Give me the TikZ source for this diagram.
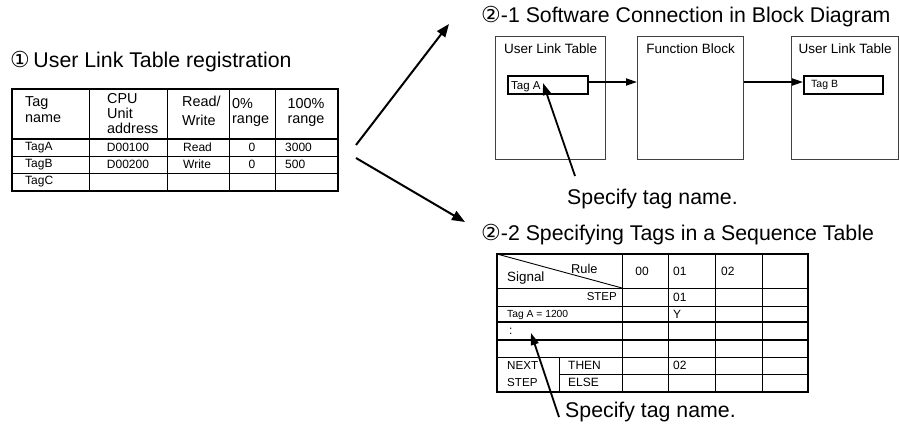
\documentclass[tikz,border=0pt]{standalone}
\usepackage{fontspec}
\setmainfont{Liberation Sans}
\newfontfamily\circfont{DejaVu Sans}
\usetikzlibrary{arrows.meta,positioning}

\tikzset{
  grid/.style={line width=0.9pt},
  frame/.style={line width=1.3pt},
  heavy/.style={line width=1.7pt},
  title/.style={inner sep=0pt, anchor=west, font=\fontsize{21.3}{24}\selectfont},
  hdr/.style={inner sep=0pt, anchor=north west, align=left, font=\fontsize{14.4}{15}\selectfont},
  cell/.style={inner sep=0pt, font=\fontsize{12}{14}\selectfont},
  small/.style={inner sep=0pt, font=\fontsize{10.5}{12}\selectfont},
  block/.style={draw=black!75, line width=1.2pt, minimum height=123pt, anchor=north west, inner sep=0pt},
  blocklbl/.style={inner sep=0pt, anchor=north, font=\fontsize{13.5}{15}\selectfont},
  tagbox/.style={draw, line width=1.6pt, minimum width=80pt, minimum height=18pt, anchor=north west, inner sep=0pt},
  bigarrow/.style={line width=2pt, -{Triangle[length=13pt,width=10pt]}},
  ptr/.style={line width=1.8pt, -{Triangle[length=12pt,width=8pt]}},
  link/.style={line width=1.8pt, -{Triangle[length=11pt,width=7pt]}}
}
\newcommand{\numcirc}[1]{{\circfont\fontsize{22}{24}\selectfont #1}}

\begin{document}
\begin{tikzpicture}[x=1pt, y=-1pt]
  \useasboundingbox (0,0) rectangle (899,429);

  % titles
  \node[title] (t1) at (10,62) {\numcirc{①}\,User Link Table registration};
  \node[title] (t21) at (481,17) {\numcirc{②}-1 Software Connection in Block Diagram};
  \node[title] (t22) at (481,235) {\numcirc{②}-2 Specifying Tags in a Sequence Table};

  % user link table
  \foreach \x in {89,167,229,275}
    \draw[grid] (\x,89) -- (\x,191);
  \foreach \y in {156,173}
    \draw[grid] (12,\y) -- (338,\y);
  \draw[frame] (12,89) rectangle (338,191);
  \draw[frame] (12,139) -- (338,139);

  \node[hdr] (hTag) at (25,96) {Tag\\[1pt]name};
  \node[hdr] (hCpu) at (107,93) {CPU\\Unit\\address};
  \node[hdr] (hRw) at (182,96) {Read/\\[4pt]Write};
  \node[hdr] (hLo) at (232,98) {0\%\\range};
  \node[hdr, anchor=north, align=center] (hHi) at (306,98) {100\%\\range};

  \node[cell, anchor=west] (rA) at (25,147.5) {TagA};
  \node[cell] (aA) at (128,147.5) {D00100};
  \node[cell, anchor=west] (wA) at (183,147.5) {Read};
  \node[cell] (lA) at (252,147.5) {0};
  \node[cell, anchor=west] (uA) at (285,147.5) {3000};
  \node[cell, anchor=west] (rB) at (25,164.5) {TagB};
  \node[cell] (aB) at (128,164.5) {D00200};
  \node[cell, anchor=west] (wB) at (183,164.5) {Write};
  \node[cell] (lB) at (252,164.5) {0};
  \node[cell, anchor=west] (uB) at (285,164.5) {500};
  \node[cell, anchor=west] (rC) at (25,182) {TagC};

  % arrows to the two uses
  \coordinate (a1s) at (356,145);
  \coordinate (a1e) at (449,24);
  \coordinate (a2s) at (356,158);
  \coordinate (a2e) at (465,222);
  \draw[bigarrow] (a1s) -- (a1e);
  \draw[bigarrow] (a2s) -- (a2e);

  % block diagram
  \node[block, minimum width=110pt] (ult1) at (495,36) {};
  \node[block, minimum width=106pt] (fb) at (637,36) {};
  \node[block, minimum width=107pt] (ult2) at (791,36) {};
  \node[blocklbl] at ([yshift=-8pt]ult1.north) {User Link Table};
  \node[blocklbl] at ([yshift=-8pt]fb.north) {Function Block};
  \node[blocklbl] at ([yshift=-8pt]ult2.north) {User Link Table};

  \node[tagbox] (tagA) at (507,75) {};
  \node[cell, anchor=west, font=\fontsize{11.5}{13}\selectfont] (tagAtxt) at (511,87) {Tag A};
  \node[tagbox, minimum width=79pt] (tagB) at (803,75) {};
  \node[small, anchor=west] (tagBtxt) at (811,85) {Tag B};

  \draw[link] (tagA.east |- 0,82) -- (fb.west |- 0,82);
  \draw[link] (fb.east |- 0,82) -- (tagB.west |- 0,82);

  % pointer to Tag A
  \node[title] (spec1) at (567,199) {Specify tag name.};
  \coordinate (p1s) at (575,176);
  \coordinate (p1e) at (543,83);
  \draw[ptr] (p1s) -- (p1e);

  % sequence table
  \foreach \x in {622,668,715,762}
    \draw[grid] (\x,254) -- (\x,392);
  \foreach \y in {288,306,357}
    \draw[grid] (497,\y) -- (808,\y);
  \draw[grid] (559,374) -- (808,374);
  \draw[grid] (559,357) -- (559,392);
  \draw[heavy] (497,322) -- (808,322);
  \draw[heavy] (497,340) -- (808,340);
  \draw[frame] (497,254) rectangle (808,392);
  \draw[grid] (497,254) -- (622,288);

  \node[cell, anchor=west, font=\fontsize{13.4}{15}\selectfont] (sig) at (507,278) {Signal};
  \node[cell, anchor=west, font=\fontsize{12.8}{15}\selectfont] (rule) at (571,269) {Rule};
  \node[cell] (c00) at (642,271) {00};
  \node[cell, anchor=west] (c01) at (673,271) {01};
  \node[cell, anchor=west] (c02) at (721,271) {02};
  \node[cell, anchor=east, font=\fontsize{11.5}{13}\selectfont] (step) at (617,297) {STEP};
  \node[cell, anchor=west] (s01) at (673,297) {01};
  \node[cell, anchor=west, font=\fontsize{10.3}{12}\selectfont] (cond) at (507,315) {Tag A = 1200};
  \node[cell, anchor=west] (yes) at (673,314) {Y};
  \node[cell, anchor=west] (dots) at (509,331) {:};
  \node[cell, anchor=west, font=\fontsize{11.6}{13}\selectfont] (nxt) at (507,365.5) {NEXT};
  \node[cell, anchor=west, font=\fontsize{11.6}{13}\selectfont] (nstep) at (507,382.5) {STEP};
  \node[cell, anchor=west] (thn) at (568,365.5) {THEN};
  \node[cell, anchor=west] (els) at (568,382.5) {ELSE};
  \node[cell, anchor=west] (n02) at (673,365.5) {02};

  % pointer to Tag A = 1200
  \node[title] (spec2) at (565,412) {Specify tag name.};
  \coordinate (p2s) at (559,417);
  \coordinate (p2e) at (531,333);
  \draw[ptr] (p2s) -- (p2e);
\end{tikzpicture}
\end{document}
